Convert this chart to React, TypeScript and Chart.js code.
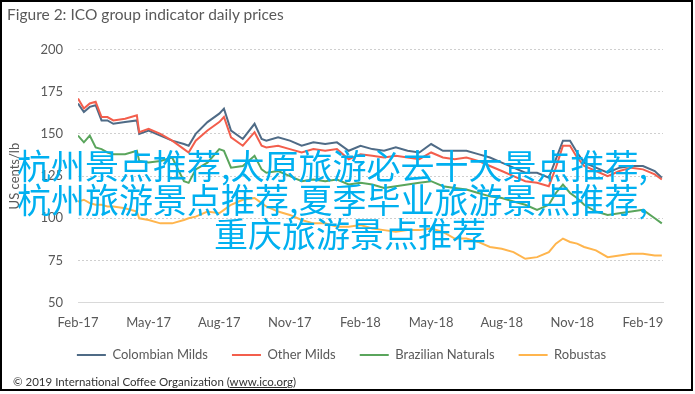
import React, { useEffect, useRef } from "react";
import { Chart, registerables } from "chart.js";

Chart.register(...registerables);

// months since Feb-2017
const MONTHS = [0, 0.25, 0.5, 0.75, 1, 1.25, 1.5, 2, 2.5, 2.6, 3, 3.5, 4, 4.5, 4.7, 5, 5.5, 6, 6.2, 6.5, 7, 7.5, 7.8, 8, 8.5, 9, 9.5, 10, 10.5, 11, 11.5, 12, 12.5, 13, 13.5, 14, 14.5, 15, 15.5, 16, 16.5, 17, 17.5, 18, 18.5, 19, 19.5, 20, 20.3, 20.6, 20.9, 21.2, 21.5, 22, 22.5, 23, 23.5, 24, 24.5, 24.8];

const COLOMBIAN_MILDS = [168, 163, 166, 167, 158, 158, 156, 157, 158, 150, 152, 149, 146, 144, 143, 150, 157, 162, 165, 152, 147, 156, 147, 146, 148, 146, 143, 145, 144, 145, 140, 143, 141, 140, 142, 140, 139, 144, 140, 140, 140, 138, 136, 133, 130, 127, 127, 124, 135, 146, 146, 139, 133, 130, 127, 130, 131, 131, 128, 124];
const OTHER_MILDS = [171, 165, 168, 169, 160, 160, 158, 159, 161, 151, 153, 150, 146, 141, 139, 146, 152, 157, 160, 148, 143, 151, 143, 142, 143, 141, 139, 141, 140, 141, 135, 138, 137, 136, 137, 136, 135, 139, 136, 135, 136, 134, 131, 128, 125, 122, 121, 119, 130, 143, 143, 136, 131, 128, 125, 128, 130, 129, 126, 123];
const BRAZILIAN_NATURALS = [149, 145, 149, 142, 141, 139, 138, 138, 140, 134, 133, 134, 136, 122, 121, 129, 133, 141, 140, 130, 131, 137, 129, 127, 128, 125, 122, 123, 122, 123, 120, 121, 120, 118, 119, 120, 121, 122, 119, 118, 117, 115, 113, 112, 110, 108, 105, 108, 115, 120, 115, 112, 108, 104, 102, 103, 104, 105, 100, 97];
const ROBUSTAS = [110, 111, 109, 108, 108, 107, 107, 106, 104, 100, 99, 97, 97, 99, 100, 101, 104, 103, 105, 108, 111, 112, 109, 107, 104, 102, 99, 97, 97, 95, 95, 96, 94, 93, 92, 93, 93, 94, 92, 88, 88, 86, 83, 82, 80, 76, 77, 80, 85, 88, 86, 85, 83, 81, 77, 78, 79, 79, 78, 78];

const SERIES_NAMES = ["Colombian Milds", "Other Milds", "Brazilian Naturals", "Robustas"];
const SERIES_COLORS = ["#4f6b86", "#f35e4c", "#5aa55c", "#ffb54d"];

const TICK_MONTHS = [0, 3, 6, 9, 12, 15, 18, 21, 24];
const TICK_LABELS = ["Feb-17", "May-17", "Aug-17", "Nov-17", "Feb-18", "May-18", "Aug-18", "Nov-18", "Feb-19"];
const Y_TICKS = [50, 75, 100, 125, 150, 175, 200];

const TITLE = "Figure 2: ICO group indicator daily prices";
const Y_TITLE = "US cents/lb";
const COPYRIGHT_PRE = "© 2019 International Coffee Organization (";
const COPYRIGHT_LINK = "www.ico.org";
const COPYRIGHT_POST = ")";
const OVERLAY_LINES = ["杭州景点推荐,太原旅游必去十大景点推荐,", "杭州旅游景点推荐,夏季毕业旅游景点推荐,", "重庆旅游景点推荐"];

const FONT = "Lato, 'Open Sans', sans-serif";
const TEXT_COLOR = "#595959";

export default function App() {
  const ref = useRef<HTMLCanvasElement>(null);

  useEffect(() => {
    document.body.style.margin = "0";
    const canvas = ref.current;
    if (!canvas) return;
    const series = [COLOMBIAN_MILDS, OTHER_MILDS, BRAZILIAN_NATURALS, ROBUSTAS];
    const order = [3, 2, 1, 0];
    const shiftLegend = {
      id: "shiftLegend",
      afterLayout(chart: any) {
        const l = chart.legend;
        if (l) {
          l.left += 10;
          l.right += 10;
          l.top -= 8.2;
          l.bottom -= 8.2;
        }
      },
    };
    const chart = new Chart(canvas, {
      type: "line",
      data: {
        datasets: series.map((vals, i) => ({
          label: SERIES_NAMES[i],
          data: MONTHS.map((m, j) => ({ x: m, y: vals[j] })),
          borderColor: SERIES_COLORS[i],
          backgroundColor: SERIES_COLORS[i],
          borderWidth: 2,
          pointRadius: 0,
          tension: 0,
          fill: false,
          order: order[i],
        })),
      },
      options: {
        animation: false,
        responsive: false,
        maintainAspectRatio: false,
        events: [],
        layout: { padding: { left: 0, right: 32, top: 49.5, bottom: 14.3 } },
        scales: {
          x: {
            type: "linear",
            min: 0,
            max: 24.85,
            afterBuildTicks: (s: any) => {
              s.ticks = TICK_MONTHS.map((v) => ({ value: v }));
            },
            afterFit: (s: any) => {
              s.height = 30;
            },
            ticks: {
              autoSkip: false,
              maxRotation: 0,
              padding: 12.5,
              color: TEXT_COLOR,
              font: { family: FONT, size: 13 },
              callback: (v: any) => {
                const idx = TICK_MONTHS.indexOf(Number(v));
                return idx >= 0 ? TICK_LABELS[idx] : "";
              },
            },
            grid: { display: false, drawTicks: false },
            border: { display: true, color: "#d9d9d9", width: 1 },
          },
          y: {
            min: 50,
            max: 200,
            afterBuildTicks: (s: any) => {
              s.ticks = Y_TICKS.map((v) => ({ value: v }));
            },
            afterFit: (s: any) => {
              s.width = 78;
            },
            ticks: {
              padding: 15,
              color: TEXT_COLOR,
              font: { family: FONT, size: 13 },
            },
            grid: {
              drawTicks: false,
              color: (c: any) => (c.tick && c.tick.value === 50 ? "rgba(0,0,0,0)" : "#cfcfcf"),
              lineWidth: 1,
            },
            border: { display: false, dash: [2, 2] },
            title: {
              display: true,
              text: Y_TITLE,
              color: TEXT_COLOR,
              font: { family: FONT, size: 13 },
              padding: { top: 7, bottom: 0 },
            },
          },
        },
        plugins: {
          tooltip: { enabled: false },
          title: { display: false },
          legend: {
            display: true,
            position: "bottom",
            labels: {
              usePointStyle: true,
              pointStyle: "line",
              pointStyleWidth: 29,
              padding: 24,
              color: TEXT_COLOR,
              font: { family: FONT, size: 13 },
              sort: (a: any, b: any) => a.datasetIndex - b.datasetIndex,
            },
          },
        },
      } as any,
      plugins: [shiftLegend],
    });
    return () => chart.destroy();
  }, []);

  return (
    <div style={{ position: "fixed", left: 0, top: 0, width: 695, height: 394, background: "#fff", overflow: "hidden" }}>
      <canvas ref={ref} width={695} height={394} style={{ position: "absolute", left: 0, top: 0, display: "block" }} />
      <div style={{ position: "absolute", left: 7, top: 5, fontFamily: FONT, fontSize: 15.5, lineHeight: "18px", color: TEXT_COLOR, whiteSpace: "nowrap" }}>
        {TITLE}
      </div>
      <div style={{ position: "absolute", left: 13, top: 375, fontFamily: FONT, fontSize: 11.5, lineHeight: "14px", color: "#333", whiteSpace: "nowrap" }}>
        {COPYRIGHT_PRE}
        <span style={{ textDecoration: "underline" }}>{COPYRIGHT_LINK}</span>
        {COPYRIGHT_POST}
      </div>
      {OVERLAY_LINES.map((t, i) => (
        <div
          key={i}
          style={{
            position: "absolute",
            left: i === 2 ? 214 : 17,
            top: 148 + i * 34,
            fontFamily: "'Noto Sans CJK SC', sans-serif",
            fontSize: 34,
            lineHeight: "34px",
            color: "#00b0f0",
            whiteSpace: "nowrap",
          }}
        >
          {t}
        </div>
      ))}
      <div style={{ position: "absolute", left: 0, top: 0, width: 693, height: 391, border: "2px solid #000", boxSizing: "border-box", pointerEvents: "none" }} />
    </div>
  );
}
